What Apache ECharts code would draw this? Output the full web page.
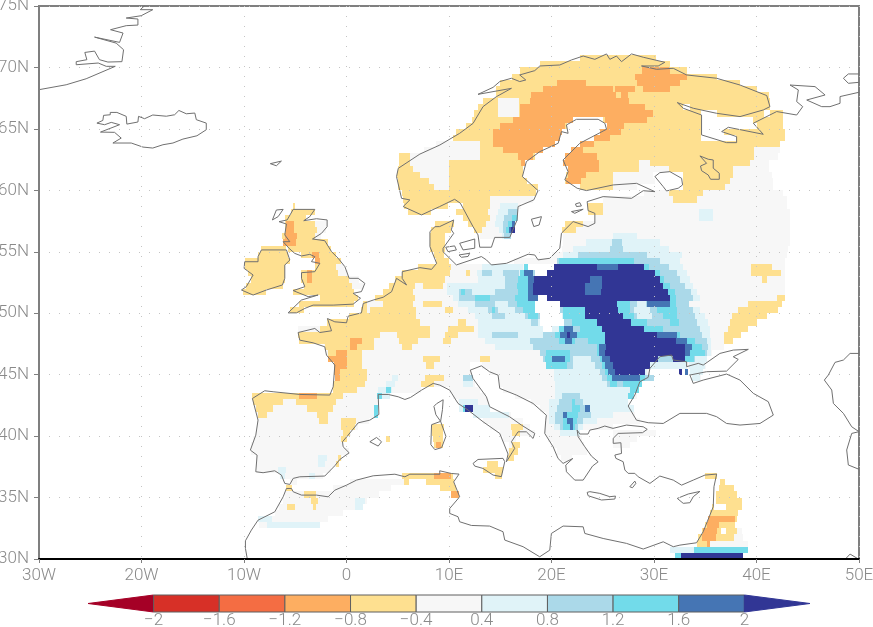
<!DOCTYPE html>
<html>
<head>
<meta charset="utf-8">
<title>Europe anomaly map</title>
<script src="https://cdn.jsdelivr.net/npm/echarts@6/dist/echarts.min.js"></script>
<style>
html, body { margin: 0; padding: 0; background: #fff; }
#main { width: 873px; height: 627px; }
</style>
</head>
<body>
<div id="main"></div>
<script>
// colour classes, bar order from the low arrow to the high arrow
const barColors = ["#a50026", "#d73027", "#f46d43", "#fdae61", "#fee090", "#f7f7f7", "#e0f3f8", "#abd9e9", "#72dbea", "#4575b4", "#313695"];
const barLabels = ["\u22122", "\u22121.6", "\u22121.2", "\u22120.8", "\u22120.4", "0.4", "0.8", "1.2", "1.6", "2"];

const lonTicks = { "-30": "30W", "-20": "20W", "-10": "10W", "0": "0", "10": "10E", "20": "20E", "30": "30E", "40": "40E", "50": "50E" };
const latTicks = [30, 35, 40, 45, 50, 55, 60, 65, 70, 75];

// anomaly cells, one row per latitude: [lat, lon0, lon1, lon0, lon1, ...]
const nearZero = [
  [67.25,14.8,16.8],[66.75,14.8,16.8],[66.25,14.8,16.8],
  [63.75,8.7,13],[63.25,7.6,13,39.8,42.3],[62.75,6.2,13,39.8,42.1],
  [62.25,6.2,10,28.5,29.8,39.4,41.2],[61.75,6.5,10,28.5,31.5,37.7,41.2],[61.25,7.2,10.1,26,29.9,37.7,41.5],
  [60.75,8,10.1,26,30.1,37.4,41.6],[60.25,8.5,10,26,28.3,32.8,41.6],[59.75,29,31.5,34.2,42.6],
  [59.25,14,18.2,25,31.9,34.2,43],[58.75,14,17,25,43],[58.25,13.8,16.7,25,43.3],[57.75,14,16.7,24.2,43.3],
  [57.25,-3.1,-1.9,13.6,16.4,23.1,43.3],[56.75,-2.9,-2,13.2,16.1,22.4,43.3],[56.25,-3.1,-2.5,13,15.9,21.1,43.3],
  [55.75,21.1,43.3],[55.25,21,43.1],[54.75,20,43],[54.25,8.7,10,16.3,42.8],[53.75,-1,-0.2,7,42.8],
  [53.25,-0.8,0.1,5.5,42.8],[52.75,0.2,1.2,5,42.8],[52.25,0.5,1.7,4.5,42.8],[51.75,3.6,42.8],[51.25,2.8,42.8],
  [50.75,1.7,42.5],[50.25,1.5,42],[49.75,0.2,40.9],[49.25,-1.8,40],[48.75,-4.7,39.2],[48.25,-4.6,38.5],
  [47.75,-4.6,37.7],[47.25,-2.2,36.8],[46.75,-1.9,35.7],[46.25,-1.3,30.7,31.9,34.9],
  [45.75,-1.1,12,13.2,29.9,33.2,35.1],[45.25,-1.1,12.1,14,29.6,33.7,34.8],[44.75,-1.1,12.3,14.9,29.3,33.7,34.6],
  [44.25,-1.3,12.5,15,28.3],[43.75,-1.3,7.3,10,13,15.3,28.3],[43.25,-9.2,3.1,10.4,13.6,16.4,28.3],
  [42.75,-9.1,3.1,10.9,13.8,18,27.5],[42.25,-8.9,3.1,11.7,14,18.9,27.8],[41.75,-8.7,3.1,12.5,16,19.5,28.1],
  [41.25,-8.6,2.2,13.3,17.2,19.4,28.6],[40.75,-8.7,1.1,14,17.9,19.4,22.4,22.6,26],
  [40.25,-8.8,0.4,15,18.4,19.4,22.4,26,30.2],[39.75,-9.1,-0.3,15.3,16.5,19.7,23,26,28.3],
  [39.25,-9.3,-0.4,15.9,16.4,20.1,23.2,26,27.7],[38.75,-9.3,0.2,15.8,16.5,20.5,23.5],[38.25,-8.8,-0.4,20.9,22],
  [37.75,-8.8,-0.9],[37.25,-8.7,-1.5],[36.75,-6.3,-2.3,5.4,10],[36.25,-5.5,-4.8,0.3,5.6],
  [35.75,-5.9,-5.3,-1.3,4.3],[35.25,-6,3.2],[34.75,-6.2,2],[34.25,-6.6,0.8],[33.75,-7,-0.3],[33.25,-8.5,-1.8],
  [32.75,-8.5,-2.6],[32.25,38.1,38.6],[31.75,37.8,38.7],[31.25,35.5,39.2]
];
const negLight = [
  [70.75,22.8,30.2],[70.25,18.9,31.6],[69.75,16.9,33.2],[69.25,16.1,36.1],[68.75,15,38.4],[68.25,14.6,40],
  [67.75,14.6,41.2],[67.25,13.3,14.8,16.8,41.3],[66.75,12.8,14.8,16.8,32.8,33.5,41.3],
  [66.25,12.4,14.8,16.8,34.6,36.1,40.7,41.3,42.6],[65.75,12.2,22.1,25,34.6,39.7,42.6],[65.25,11.7,21.5,25.4,34.6,40,42.6],
  [64.75,10.7,21,25,34.6,36.8,42.8],[64.25,10.4,20.8,24.1,34.6,38,42.8],[63.75,13,20.3,22.8,42.3],[63.25,13,19.2,21.9,39.8],
  [62.75,5.1,6.2,13,18.4,21.3,39.8],[62.25,5.1,6.2,10,17.4,21.1,28.5,29.6,39.4],[61.75,5,6.5,10,17.2,21.6,28.5,31.5,37.7],
  [61.25,4.9,7.2,10,17.2,21.4,26,32.8,37.7],[60.75,5,8,10,17.6,21.3,26,32.8,37.4],[60.25,5,8.5,10,18.7,22.8,26,32.8,36.9],
  [59.75,5.4,18.5,31.5,34.8],[59.25,5.5,14,31.9,34.2],[58.75,-5.2,-5,5.6,9.9,11.4,14,23.6,25],
  [58.25,-5.4,-3.1,6,8.2,10.7,13.8,23.6,25],[57.75,-6,-4,11.4,14],[57.25,-6,-3.1,8.6,10.5,11.9,13.6,21.3,23.1],
  [56.75,-6,-2.9,8.2,10.2,12.4,13.2,21,22.4],[56.25,-6.3,-3.1,8.1,9.6],[55.75,-6.2,-1.8,8.1,9.6],
  [55.25,-8.3,-5.9,-5.7,-1.5,8.1,9.6],[54.75,-8.6,-5.7,-4.4,-1,8.5,9.5],[54.25,-9.9,-5.5,-2.6,-0.5,8.7,10],
  [53.75,-9.9,-6,-3.1,-1,7,10.2,39.5,41.5],[53.25,-9.6,-6,-4.4,-0.8,5.4,10.1,11.7,12,39.5,42.4],[52.75,-9.3,-6,-4.4,0.2,4.7,9.6,40.5,41],
  [52.25,-9.8,-6.2,-4.1,0.5,4.1,6.7,7.5,9.4],[51.75,-10.1,-7.9,-5.2,0.7,3.6,6.5],[51.25,-2.6,1.1,2.8,6.7,42,42.8],
  [50.75,-4.6,0.7,1.6,2,3.6,6.5,7.5,9.3,39.2,42.5],[50.25,-5.5,-4.1,1.4,2,2.3,6.8,9.6,10.4,38.2,42.1],[49.75,0.2,6.8,37.6,41],
  [49.25,-1.9,7.2,10.9,11.7,37.4,40],[48.75,-2.6,8.1,9.9,12.4,37.2,39.2],[48.25,-4.7,3.3,4.9,8.1,9.6,10.9,36.8,38.5],
  [47.75,-4.6,2.7,5.1,7,9.4,10.2,36.8,37.7],[47.25,-2.1,2.7,5.4,6.4],[46.75,-1.8,1.5],[46.25,-1.3,1.5,7.5,9.1,13,14],
  [45.75,-1.1,1.5,7.8,8.5],[45.25,-1.1,2],[44.75,-1.1,2,7.7,9.5],[44.25,-1.3,1.8,7.3,8.5],[43.75,-1.3,1],
  [43.25,-9.2,-0.3],[42.75,-9.1,-6.2,-4.9,-1],[42.25,-8.8,-7.2,-3.9,-1.3],[41.75,-8.6,-7.8,-2.9,-1.8,25.2,26],
  [41.25,-2.7,-1.8,-0.5,0.9],[40.75,-0.5,0.8,8.3,9.5,16,17.2],[40.25,-0.3,0.3,8.3,9.4,16.1,16.9],
  [39.75,-0.5,0,3.9,4.2,8.4,9.4],[39.25,8.5,9.4,16.1,16.9],[38.75,15.9,16.7],[38.25,-0.8,-0.5,15.8,16.3],
  [37.75,-1,-0.7,13.7,14.8],[37.25,13.3,15.3],[36.75,5.4,10.4,14.5,15.2,35,36.1],[36.25,5.6,6.1,7.8,10.5,36.4,36.9],
  [35.75,-5.9,-5.3,9.1,10.7,36.3,37.8],[35.25,-4.1,-3,10.4,11,36,38.1],[34.75,-3.5,-2.8,36,38.6],
  [34.25,-5.8,-5,-3.3,-3,35.7,35.9,37,38.6],[33.75,35.5,38.2],[33.25,35.3,38.1],[32.75,35,37.9],[32.25,34.7,38.1],
  [31.75,34.3,37.8],[31.25,34.2,35.5]
];
const negMedium = [
  [69.75,28.8,31.6],[69.25,28.1,33.2],[68.75,20.5,23.4,28.3,32.5],[68.25,19.2,26,26.2,28.1,28.9,31.6],[67.75,18,26.3,26.8,27.5],
  [67.25,17.9,27.6],[66.75,16.9,29.1],[66.25,16.9,29.9],[65.75,16.2,22.1,25.2,29.3],[65.25,15,21.3,25.4,27.1],
  [64.75,14.3,21,24.7,26.8],[64.25,14.3,20.8,24.1,25.7],[63.75,14.3,20.3,22.8,24.1],[63.25,15.3,19.2,21.9,23.1],
  [62.75,16.7,18.2,21.3,24.4],[62.25,17,17.4,21.1,24.6],[61.75,21.6,24.6],[61.25,21.6,23.4],[60.75,21.4,22.9],
  [57.25,-5.9,-5.1],[56.75,-5.9,-5.1],[56.25,-6,-4.8],[55.75,-6.2,-4.9],[54.75,-3.4,-2.7],[54.25,-3.1,-2.6],
  [53.25,-3.9,-3.4],[52.75,-3.9,-3.4],[47.75,0.3,1.5],[47.25,0.3,1],[46.75,-1,0],[46.25,-1.8,0],[45.75,-1.2,0],
  [45.25,-1.2,-0.6],[44.75,-1.1,-0.6],[43.25,-4.6,-2.9],[39.25,8.7,9.2],[36.75,8.5,10.2],[35.25,10.2,11],
  [33.25,35.3,37.9],[32.75,35.2,36.3],[32.25,34.8,36.1],[31.75,34.7,36],[31.25,35.2,35.5]
];
const posPale = [
  [58.75,15,16.7],[58.25,14.8,16.7,34.4,35.8],[57.75,14.6,16.7,34.4,35.8],[57.25,14.5,16.4],[56.75,14.9,16.2],
  [56.25,15.2,16,26,28.3],[55.75,23.4,30.6],[55.25,22.1,31.5],[54.75,21.1,32.7],[54.25,21,32.5],
  [53.75,13.2,17.2,20,32.8],[53.25,12.7,17.2,19.8,33.2],[52.75,12.85,33.5],[52.25,9.76,33.8],[51.75,9.76,34.2],[51.25,10.4,34.5],
  [50.75,10.9,33.2],[50.25,11.9,34.5],[49.75,12.5,35],[49.25,12.85,35.3],[48.75,12.85,35.5],[48.25,12.85,35.5],
  [47.75,13.5,35.6],[47.25,14.5,35.6],[46.75,18.9,35.6],[46.25,19.2,35.2],[45.75,19.8,33.2,33.4,35],[45.25,20.2,29.3,33.5,34.8],
  [44.75,4.4,5,20.2,28.6,33.7,34.5],[44.25,3.9,4.7,11.4,12.3,20.3,28.3],[43.75,3.1,4.4,20.3,28.3],[43.25,3,4.2,20.3,27.6],
  [42.75,11,12.8,19.8,27.5],[42.25,11,14,19.8,28],[41.75,12.3,15.9,19.8,26],[41.25,19.8,24.4],[40.75,20.2,23.1],[40.25,20.8,22.8],
  [38.25,-2.8,-1.9],[37.75,-2.8,-2.1],[37.25,-6.7,-5.9],[36.75,-6.5,-6,-3.7,-3.1],[34.75,0.8,1.8],[34.25,0.8,1.6],
  [33.25,-8.6,-7.3],[32.75,-7.8,-2.6],[30.75,31.6,34]
];
const posLight = [
  [58.25,15.8,16.7],[57.75,15.4,16.7],[57.25,15.3,16.4],[56.75,15.3,16.2],[56.25,15.4,16],
  [55.75,25.9,26.9],[55.25,25.7,27],[54.75,22.6,29.3],[54.25,20.5,30.6],[53.75,19.5,31.5],
  [53.25,13.2,14.15,15.3,16.8,17,32.2],[52.75,15.5,32.5],[52.25,15.5,33],[51.75,11,12.2,14.5,33.6],[51.25,11,33.8],
  [50.75,12.5,14.5,15.8,33.4],[50.25,13.8,14.8,16.4,33.85],[49.75,14.15,15.5,17.4,19,21.15,34],[49.25,18,18.7,21.15,34.2],
  [48.75,21.15,34.5],[48.25,14.15,16.75,19.2,34.7],[47.75,17.9,35.2],[47.25,18.2,35.3],[46.75,18.9,35.2],
  [46.25,19.2,22.1,23.9,34],[45.75,19.5,22.1,24.2,25.2],[45.25,24.7,25.7],[44.75,11.4,12.3,24.9,25.7,29,30],[44.25,25.4,27.7],
  [43.25,21,22.8],[42.75,20.7,23.1],[42.25,20.5,23.4],[41.75,20.3,23.9],[41.25,20.3,23.1],[40.75,20.8,22.6]
];
const posStrong = [
  [57.75,16.1,16.6],[57.25,15.8,16.4],[56.75,15.6,16.1],[54.25,20.7,28],[53.75,17.3,17.7,20,29.5],[53.25,16.9,17.3,19.4,30.6],
  [52.75,16.75,17.7,30.6,31],[52.25,16.6,17.7,30.9,31.6],[51.75,11.2,11.6,16.75,17.7,31.4,32],[51.25,12.5,14,16.4,17.7,31.6,32.1],
  [50.75,16.6,18.7,20.6,32.1],[50.25,14.15,14.5,17.25,18.7,21.15,23.3,26.5,27.7,30.3,32.2],
  [49.75,17.7,18.7,21.15,23.3,27,28,30.9,32.2],[49.25,22,24.4,27.8,29.3,31.6,32.4],[48.75,20.7,21.3,22.8,24.9,29,30.9],
  [48.25,20.3,20.8,22.5,25.2,30.3,32.5],[47.75,20.7,22.3,23.6,25.2,32.2,34],[47.25,24.4,25.3,33.7,34.7],[46.75,19.5,21.8,24.4,25.2,33.5,35],
  [46.25,19.4,21.8,24.7,25.7,33,33.9],[45.75,19.5,21.5,24.9,26],[45.25,25.2,26.2],[44.75,25.4,29.1],[44.25,25.7,26.4,27,28.8],
  [43.75,3.9,4.3,27.7,28.5],[43.25,3,3.5,27.5,28],[42.75,22,22.3],[42.25,2.7,3.1,11.4,12.2,22,22.8],[41.75,2.7,3.1,21.15,22.6],
  [41.25,21.15,22.5],[40.75,21.15,22.3],[30.75,33.9,39.2],[30.25,32,32.6]
];
// hollow centre of the ring, sits on top of the cyan band
const ringLight = [[50.75,27.7,30.9],[50.25,27.7,30.3],[49.75,28,30.9],[49.25,29.3,31.6]];
const ringPale = [[50.75,28.3,29.2],[50.25,28,29.6],[49.75,28.3,29.8]];
const posVery = [
  [57.25,16.1,16.4],[56.75,15.9,16.1],[53.75,24.4,26.5],[53.25,17.3,18.2],[52.75,17.7,18.3,23.8,24.9],[52.25,17.7,18.2,23.3,24.9],
  [51.75,17.7,18.2,23.3,24.8],[51.25,17.7,18.7],[50.75,29.3,31.6],[48.75,21.2,22.1],[48.25,20.8,22.5,30.3,32.2],[47.75,21.3,22,32,33.2],
  [47.25,24.6,25.3,33,33.7],[46.75,24.6,25.2,33,33.5],[46.25,20,21.3,24.9,25.7],[45.75,25.2,26],[45.25,25.5,26.2,33,33.3],
  [44.75,25.9,28.6],[42.25,23.3,23.8],[41.75,21.15,21.5],[41.25,21.5,22.1],[40.75,21.8,22.1]
];
const posExtreme = [
  [56.75,16,16.4],[53.75,20.2,24.4,26.5,29],[53.25,19.4,30.1],[52.75,18.3,23.8,24.9,30.6],[52.25,18.2,23.3,24.9,30.9],
  [51.75,18.2,23.3,24.8,31.4],[51.25,18.7,31.6],[50.75,20.7,26.4],[50.25,23.3,26.5],[49.75,23.3,27],[49.25,24.4,27.8],
  [48.75,24.9,29],[48.25,21.5,21.8,25.2,30.3],[47.75,25.2,32.1],[47.25,25.3,33],[46.75,25.2,33],[46.25,25.7,30.4,31.9,33],
  [45.75,26,29.6],[45.25,26.2,29.1,32.4,32.7],[42.25,11.6,12.3],[30.25,32.6,38.7]
];
// cells without data
const noData = [[53.75,17.7,20.2],[53.25,18.4,19.6],[51.25,18.7,19.6],[50.75,18.4,20.8],[50.25,18.4,20.8],[49.75,18.9,21],[49.25,18.9,21.2],[48.75,19.2,20],[32.25,36.5,37]];

// coastlines, [lon, lat]
const coastMain = [
  [-9.67,29.96],[-9.86,30.86],[-9.86,31.48],[-9.28,32.35],[-8.63,33.16],[-7,33.84],[-6.18,35.06],[-5.86,35.74],[-5.37,35.74],[-5.2,35.47],
  [-4.39,35.2],[-2.93,35.2],[-1.79,35.06],[-1.14,35.6],[0,36.01],[0.98,36.42],[2.6,36.77],[4.72,36.9],[5.7,36.69],[6.18,36.9],[9.11,36.9],
  [9.09,37.18],[10.23,36.96],[10.98,36.91],[10.46,36.28],[11.04,35.06],[10.07,34.11],[10.07,33.71],[10.88,33.44],[11.04,33.03],[12.18,32.73],
  [13.97,32.68],[15.27,32.22],[15.44,31.54],[17.23,31],[18.85,30.18],[19.83,30.72],[19.99,32.08],[21.13,32.68],[23.09,32.62],[23.25,32.08],
  [25.04,31.67],[27.32,31.27],[28.95,30.81],[30.9,31.4],[31.88,31],[32.53,31.13],[34.15,31.32],[34.8,32.22],[35.78,34.25],[35.85,35.88],
  [36.11,36.91],[34.97,36.83],[33.83,36.42],[32.69,36.01],[31.88,36.42],[30.57,36.75],[29.6,36.15],[28.46,36.69],[28.13,36.97],[27.48,36.97],
  [27.16,37.24],[26.99,37.92],[26.28,38.19],[26.18,38.46],[26.83,38.59],[26.77,39.46],[26.02,39.41],[26.02,39.82],[26.5,40.22],[28.88,40.28],
  [29.34,40.55],[28.95,40.76],[27.32,40.9],[26,40.63],[25.2,40.82],[24.55,40.63],[23.74,40.49],[23.57,40.17],[22.76,40.17],[22.5,40.49],
  [22.6,39.95],[23.25,39.13],[23.9,38.37],[24.55,37.91],[24,37.56],[23.09,36.42],[22.27,36.42],[21.46,37.1],[21.39,37.64],[22.08,38.18],
  [21.13,37.78],[20.64,38.18],[20.16,39.13],[19.34,40.22],[19.44,41.3],[19.5,41.7],[18.2,42.66],[16.58,43.34],[14.95,43.88],[14.79,44.96],
  [13.97,45.23],[13.16,45.72],[12.08,45.37],[12.34,44.69],[13.65,43.2],[13.97,42.39],[15.92,41.57],[17.06,40.9],[18.37,40.22],[18.2,39.81],
  [17.55,40.35],[16.74,40.35],[16.09,39.54],[16.41,39],[15.6,37.91],[15.76,38.54],[14.95,40.22],[13.32,41.17],[11.86,42.12],[10.88,42.66],
  [10.07,43.74],[9.11,44.15],[8.46,44.29],[7.32,43.74],[6.25,43.15],[5.7,42.98],[5.05,43.2],[4.07,43.39],[3.09,43.39],[3.16,41.76],[2.28,41.3],
  [1.14,41.08],[0.16,40.08],[-0.39,39.54],[-0.33,39.13],[0.26,38.64],[-0.65,38.1],[-1.14,37.59],[-2.12,36.75],[-4.56,36.69],[-5.2,36.56],
  [-5.53,36.07],[-6.02,36.15],[-6.35,36.83],[-7,37.18],[-8.14,37.02],[-8.85,37.1],[-8.72,38.45],[-9.38,38.86],[-8.85,40.08],[-8.63,41.3],
  [-9.18,43.06],[-7.98,43.69],[-7.16,43.61],[-4.56,43.39],[-1.63,43.34],[-1.3,44.01],[-1.14,45.78],[-1.95,46.59],[-2.12,47.27],[-3.26,47.59],
  [-4.56,47.81],[-4.72,48.43],[-3.09,48.76],[-2.6,48.43],[-1.46,48.57],[-1.86,49.57],[-1.14,49.3],[0,49.22],[0.16,49.76],[1.46,50.03],[1.63,50.79],
  [2.6,51.07],[3.58,51.3],[4.4,51.75],[4.88,52.84],[5.86,52.3],[5.43,52.84],[5.44,53.38],[7.16,53.71],[8.3,53.57],[8.79,54.06],[8.14,55.42],
  [8.14,56.64],[8.63,57.04],[9.09,57.05],[10.46,57.59],[10.23,56.78],[10.46,56.5],[9.42,55.28],[9.42,55],[10.72,53.93],[13.16,54.61],[13.65,54.34],
  [14.14,53.93],[15.6,54.06],[17.72,54.8],[18.37,54.74],[18.69,54.34],[19.83,54.47],[20.81,55.29],[20.97,56.51],[22.11,57.46],[23.57,57.05],
  [24.23,57.32],[24.23,58.13],[23.57,58.35],[23.48,59.08],[25.04,59.49],[27.81,59.35],[28.95,59.97],[30.09,59.89],[28.3,60.57],[26.02,60.44],
  [23.41,59.98],[22.5,60.17],[21.3,60.85],[21.62,61.52],[21.13,62.47],[22.76,63.83],[25.37,64.97],[25.2,65.46],[24.55,65.78],[22.44,65.78],
  [21.46,65.32],[21.62,64.64],[20.97,64.78],[20.65,63.83],[18.86,63.15],[17.55,62.34],[17.16,61.12],[18.69,59.98],[18.27,59.22],[16.74,58.68],
  [16.64,57.59],[15.93,56.17],[14.46,56.17],[14.14,55.37],[13,55.37],[12.83,56.37],[12.34,57.05],[11.11,58.95],[10.55,59.27],[9.09,58.68],
  [7.32,58],[5.53,58.68],[6.18,59.22],[5.37,59.35],[4.88,61.11],[5.05,61.79],[7.16,62.95],[9.11,63.69],[11.04,64.64],[12.35,65.45],[13.32,66.81],
  [14.62,67.62],[16.09,68.3],[12.83,67.81],[14.3,68.38],[14.95,68.85],[16.09,69.12],[16.9,68.85],[17.49,68.98],[16.9,69.39],[18.37,69.74],
  [18.86,70.12],[20.81,70.2],[21.95,70.61],[23.09,70.93],[24.23,70.66],[25.37,71.1],[25.69,70.66],[26.34,70.93],[26.83,70.47],[27.81,71.1],
  [28.95,70.83],[31.06,70.42],[30.41,70.12],[28.78,70.12],[30.25,69.85],[31.88,69.93],[33.18,69.39],[36.1,69.12],[38.39,68.57],[41,67.71],
  [41.31,66.81],[40.66,66.54],[38.39,66],[36.1,66.27],[33.83,66.68],[32.27,67.14],[32.85,66.68],[34.64,66.13],[34.64,64.51],[37.08,63.88],
  [38.06,63.88],[38.06,64.37],[36.6,64.78],[37.25,65.13],[40.66,64.56],[39.69,65.46],[41.97,66.41],[43.92,66.13],[44.51,66.81],[43.92,67.22],
  [44.08,68.17],[43.27,68.57],[45.71,68.44],[46.69,67.76],[44.9,67.35],[46.36,66.81],[47.17,66.81],[48.15,67.08],[48.15,67.63],[50,67.98]
];
const coastBritain = [
  [-5.2,58.45],[-3.09,58.45],[-3.58,57.86],[-4.17,57.53],[-2.93,57.69],[-1.89,57.59],[-1.89,57.04],[-2.44,56.5],[-3.32,56.04],[-2.12,55.9],
  [-1.46,55.01],[-0.81,54.47],[-0.16,53.79],[0.26,52.84],[1.14,52.84],[1.79,52.43],[1.46,51.76],[0.65,51.62],[1.37,51.22],[1.3,51.07],[0.65,50.74],
  [-1.3,50.66],[-3.26,50.66],[-4.07,50.39],[-4.88,50.03],[-5.7,50.03],[-4.4,51.07],[-2.77,51.48],[-3.74,51.35],[-5.2,51.84],[-4.07,52.16],
  [-4.39,52.84],[-4.39,53.3],[-3.09,53.38],[-2.6,54.06],[-3.42,54.2],[-3.09,54.6],[-3.58,54.79],[-4.39,54.66],[-5.05,54.87],[-5.6,55.28],
  [-6.18,55.82],[-5.53,55.82],[-6.02,56.37],[-5.86,57.26],[-6.58,57.45],[-5.79,57.59],[-5.2,58.45]
];
const coastIreland = [
  [-8.3,55.15],[-5.86,55.15],[-5.53,54.33],[-6.02,53.92],[-6.02,52.84],[-6.25,52.3],[-7.81,51.89],[-9.11,51.48],[-10.25,51.89],[-9.77,52.16],
  [-9.11,53.11],[-9.99,53.65],[-9.93,54.19],[-8.63,54.19],[-8.63,54.6],[-8.3,55.15]
];
const coastIceland = [
  [-24.35,65.47],[-23.77,65.69],[-23.7,66.1],[-23.05,66.15],[-23.05,66.34],[-22.4,66.34],[-21.49,66.02],[-21.43,65.39],[-20.35,65.56],[-20.29,66.02],
  [-19.7,65.83],[-18.9,66.13],[-17.58,66.03],[-16.77,66.15],[-16.35,66.5],[-15.63,66.23],[-14.8,66.29],[-14.65,65.75],[-13.68,65.47],[-13.68,64.93],
  [-14.59,64.44],[-15.96,64.17],[-16.93,63.85],[-17.91,63.71],[-18.9,63.44],[-19.86,63.52],[-21,63.85],[-22.79,63.85],[-21.98,64.25],[-22.63,64.72],
  [-24,64.74],[-22.14,65.34],[-22.95,65.53],[-23.6,65.34],[-24.35,65.47]
];
const coastGreenland = [
  [-30,68.19],[-27.35,68.59],[-25.4,69.08],[-22.56,70.09],[-23.44,70.09],[-24.22,70.36],[-26.37,70.22],[-26.37,70.47],[-25.33,70.63],[-25.53,71.22],
  [-24.58,71.33],[-24.1,70.63],[-23.28,70.44],[-21.91,70.47],[-21.75,71.44],[-22.47,71.98],[-24.58,72.47],[-22.14,72.04],[-21.8,72.8],[-23.02,73.07],
  [-21.49,73.4],[-20.35,73.45],[-20.35,73.94],[-21.49,74.02],[-20.03,74.21],[-18.9,74.7],[-20.12,74.7],[-19.7,75.02]
];
const coastBlackSea = [
  [27.48,42.45],[28.29,41.3],[29.43,41.09],[30.9,41.03],[32.53,41.85],[35.13,41.85],[36.11,41.58],[37.08,41.03],[38.39,40.9],[40.34,41.03],[41.64,41.71],
  [41.15,42.8],[39.69,43.48],[38.39,44.56],[37.08,45.05],[34.8,44.56],[33.83,44.29],[33.5,44.97],[35.13,45.24],[37.08,45.29],[38.22,46.24],[37.73,46.46],
  [39.2,47.06],[37.73,47],[36.43,46.73],[34.8,45.78],[34.32,45.92],[33.18,45.65],[33.18,46.05],[31.88,46.19],[31.71,46.6],[30.57,46.46],[29.6,45.51],
  [29.43,44.78],[28.62,44.43],[28.13,43.34],[27.48,42.45]
];
const coastCaspianW = [[50,46.73],[49.13,46.73],[48.48,46.19],[47.66,46],[47.01,44.97],[46.62,44.56],[47.34,43.75],[47.5,42.66],[48.48,41.85],[49.29,40.76],[50,40.36]];
const coastCaspianS = [[50,40.36],[49.29,40.22],[48.8,38.87],[48.96,37.65],[50,37.3]];
const coastGulf = [[48.64,29.97],[49.13,30.4],[50,29.97]];
const coastIslands = [
  [[-7.43,62.17],[-6.35,62.38],[-6.84,62],[-7.43,62.17]],
  [[-6.84,58.4],[-6.18,58.45],[-6.67,57.86],[-7.23,57.59],[-6.84,58.4]],
  [[50,69.47],[48.96,69.47],[48.48,69.12],[48.96,68.71],[50,68.79]],
  [[30.09,61.12],[30.57,61.44],[31.55,61.52],[32.69,60.98],[32.79,60.44],[32.36,60.17],[31.22,59.95],[30.9,60.3],[30.09,61.12]],
  [[34.48,62.8],[35.29,62.53],[35.78,62.47],[35.78,61.8],[36.37,61.39],[36.37,60.9],[35.52,60.9],[35.29,61.25],[34.64,61.6],[34.54,61.98],[35.13,62.2],[34.48,62.8]],
  [[18.04,57.65],[19.02,57.86],[18.79,57.18],[18.27,57.05],[18.04,57.65]],
  [[21.95,58.27],[23.09,58.46],[22.27,58.13],[21.95,58.27]],
  [[22.34,58.89],[22.76,59],[22.92,58.73],[22.44,58.68],[22.34,58.89]],
  [[11.04,55.69],[12.51,56.04],[12.51,55.29],[11.37,55.15],[11.04,55.69]],
  [[9.68,55.37],[10.55,55.48],[10.72,55.15],[9.9,55.01],[9.68,55.37]],
  [[10.98,54.74],[12.02,54.88],[11.86,54.62],[11.21,54.55],[10.98,54.74]],
  [[9.43,42.96],[9.36,42.15],[9.18,41.2],[8.72,41.74],[8.53,42.42],[8.79,42.64],[9.43,42.96]],
  [[9.18,41.2],[9.7,39.98],[9.28,39.06],[8.62,38.9],[8.23,39.3],[8.3,40.93],[9.18,41.2]],
  [[12.35,37.78],[12.83,38.1],[15.27,38.19],[15.44,37.92],[15.11,36.7],[14.3,36.83],[13.32,37.37],[12.51,37.56],[12.35,37.78]],
  [[23.48,35.42],[23.74,35.48],[24.71,35.34],[25.69,35.07],[26.24,35.12],[26.18,34.88],[24.88,34.8],[23.57,35.15],[23.48,35.42]],
  [[32.27,34.93],[33.34,35.29],[34.48,35.5],[33.83,35.07],[33.5,34.58],[32.85,34.53],[32.27,34.93]],
  [[27.64,35.88],[28.13,36.34],[28.23,36.15],[27.9,35.8],[27.64,35.88]],
  [[2.28,39.54],[2.93,39.89],[3.42,39.54],[3.09,39.19],[2.28,39.54]]
];

const CELL_HALF = 0.25;
const GREY = "#7f7f7f";
const TEXT = "#8a8a8a";
const FONT = "Roboto";

// paint order: weak classes first, stronger ones on top
const layers = [
  [nearZero, 5], [negLight, 4], [negMedium, 3], [posPale, 6], [posLight, 7], [posStrong, 8],
  [ringLight, 7], [ringPale, 6], [posVery, 9], [posExtreme, 10]
];
const cells = [];
layers.forEach(function (layer) {
  layer[0].forEach(function (row) {
    for (let i = 1; i < row.length; i += 2) cells.push([row[0], row[i], row[i + 1], barColors[layer[1]]]);
  });
});
noData.forEach(function (row) {
  cells.push([row[0], row[1], row[2], "#ffffff"]);
});

function renderCell(params, api) {
  const lat = api.value(0);
  const a = api.coord([api.value(1), lat + CELL_HALF]);
  const b = api.coord([api.value(2), lat - CELL_HALF]);
  const x = Math.round(a[0]), y = Math.round(a[1]);
  return {
    type: "rect",
    shape: { x: x, y: y, width: Math.round(b[0]) - x, height: Math.round(b[1]) - y },
    style: { fill: cells[params.dataIndex][3] }
  };
}

// colour bar: the two end classes are arrows
function renderBar(params, api) {
  const i = params.dataIndex;
  const a = api.coord([i, 1]), b = api.coord([i + 1, 0]);
  const style = { fill: barColors[i], stroke: i === 0 || i === barColors.length - 1 ? barColors[i] : "#5f5f5f", lineWidth: 1 };
  if (i === 0) {
    return { type: "polygon", shape: { points: [[a[0], (a[1] + b[1]) / 2], [b[0], a[1]], [b[0], b[1]]] }, style: style };
  }
  if (i === barColors.length - 1) {
    return { type: "polygon", shape: { points: [[a[0], a[1]], [b[0], (a[1] + b[1]) / 2], [a[0], b[1]]] }, style: style };
  }
  return { type: "rect", shape: { x: a[0], y: a[1], width: b[0] - a[0], height: b[1] - a[1] }, style: style };
}

function coastSeries(points) {
  return {
    type: "line", data: points, showSymbol: false, silent: true, z: 5, clip: true,
    lineStyle: { color: "#707070", width: 1 }
  };
}

const coasts = [coastMain, coastBritain, coastIreland, coastIceland, coastGreenland, coastBlackSea, coastCaspianW, coastCaspianS, coastGulf].concat(coastIslands);

const option = {
  animation: false,
  backgroundColor: "#ffffff",
  textStyle: { fontFamily: FONT },
  grid: [
    { left: 39, top: 6, width: 820, height: 553, outerBoundsMode: "none", show: true, borderColor: GREY, borderWidth: 2, backgroundColor: "#ffffff" },
    { left: 88, top: 595, width: 722, height: 17, outerBoundsMode: "none" }
  ],
  xAxis: [
    {
      type: "value", gridIndex: 0, min: -30, max: 50, interval: 10, z: 6,
      axisLine: { onZero: false, lineStyle: { color: "#000000", width: 2 } },
      axisTick: { length: 4, lineStyle: { color: GREY } },
      axisLabel: { color: TEXT, fontSize: 17, fontWeight: 300, fontFamily: FONT, margin: 8, formatter: function (v) { return lonTicks[v]; } },
      splitLine: { show: true, lineStyle: { color: "#c4c4c4", width: 1, type: [1, 9] } }
    },
    {
      type: "value", gridIndex: 1, min: 0, max: 11, interval: 1,
      axisLine: { show: false }, axisTick: { show: false }, splitLine: { show: false },
      axisLabel: { color: TEXT, fontSize: 17, fontWeight: 300, fontFamily: FONT, margin: 0, formatter: function (v) { return barLabels[v - 1] || ""; } }
    }
  ],
  yAxis: [
    {
      type: "value", gridIndex: 0, min: latTicks[0], max: latTicks[latTicks.length - 1], interval: 5, z: 6,
      axisLine: { onZero: false, lineStyle: { color: GREY, width: 2 } },
      axisTick: { length: 5, lineStyle: { color: GREY } },
      axisLabel: { color: TEXT, fontSize: 17, fontWeight: 300, fontFamily: FONT, margin: 10, padding: [3, 0, 0, 0], formatter: function (v) { return v + "N"; } },
      splitLine: { show: true, lineStyle: { color: "#c4c4c4", width: 1, type: [1, 9] } }
    },
    { type: "value", gridIndex: 1, min: 0, max: 1, show: false }
  ],
  series: [
    {
      type: "custom", xAxisIndex: 0, yAxisIndex: 0, coordinateSystem: "cartesian2d", clip: true, silent: true, z: 2,
      progressive: 0, encode: { x: 1, y: 0 }, data: cells.map(function (c) { return c.slice(0, 3); }), renderItem: renderCell
    },
    {
      type: "custom", xAxisIndex: 1, yAxisIndex: 1, coordinateSystem: "cartesian2d", silent: true,
      data: barColors.map(function (c, i) { return [i, 0]; }), encode: { x: 0, y: 1 }, renderItem: renderBar
    }
  ].concat(coasts.map(coastSeries))
};

const chart = echarts.init(document.getElementById("main"));
chart.setOption(option);
</script>
</body>
</html>
